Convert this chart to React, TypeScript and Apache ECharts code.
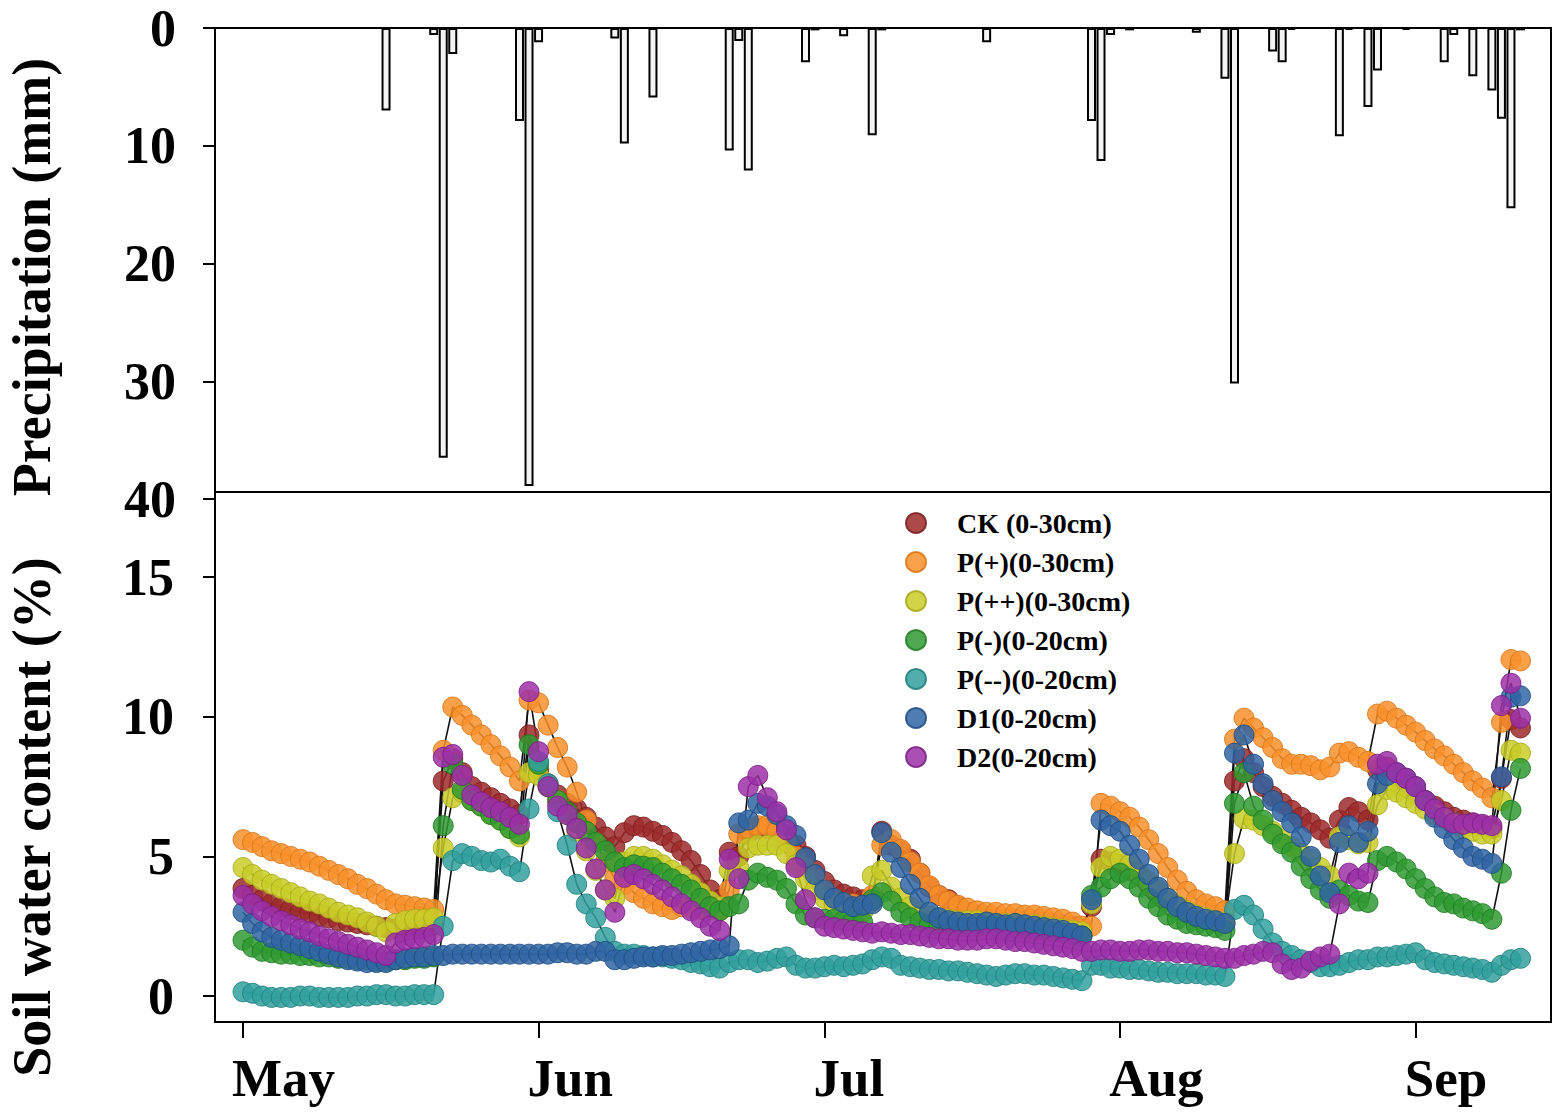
import React, { useEffect, useRef } from "react";
import * as echarts from "echarts";

const FONT = "'Liberation Serif', 'Times New Roman', serif";

// x axis: day index counted from May 1
const X_MIN = -2.94;
const X_MAX = 137.2;
const monthTicks = [0, 31, 61, 92, 123];
const monthLabels = ["May", "Jun", "Jul", "Aug", "Sep"];
const swcTicks = [0, 5, 10, 15];

// Precipitation (mm): day index and amount
const precipDays = [15, 20, 21, 22, 29, 30, 31, 39, 40, 43, 51, 52, 53, 59, 60, 63, 66, 67, 78, 89, 90, 91, 93, 100, 103, 104, 108, 109, 110, 115, 116, 118, 119, 122, 126, 127, 129, 131, 132, 133, 134];
const precipMm = [7.0, 0.6, 36.5, 2.2, 7.9, 38.9, 1.2, 0.9, 9.8, 5.9, 10.4, 1.1, 12.1, 2.9, 0.2, 0.7, 9.1, 0.2, 1.2, 7.9, 11.3, 0.6, 0.2, 0.4, 4.3, 30.2, 2.0, 2.9, 0.15, 9.2, 0.15, 6.7, 3.6, 0.15, 2.9, 0.6, 4.1, 5.3, 7.7, 15.3, 0.2];

// Soil water content (%), one value per day from May 1 (day 0) to day 134
const ck = [
  3.85, 3.6, 3.45, 3.3, 3.2, 3.1, 3.0, 2.95, 2.85, 2.8, 2.7, 2.65, 2.6, 2.55, 2.5, 2.45, 2.4, 2.4, 2.45, 2.5, 2.55,
  7.7, 8.5, 8.0, 7.5, 7.3, 7.1, 6.9, 6.7, 6.5,
  9.35, 8.1, 7.6, 7.2, 6.9, 6.7, 6.4, 6.05, 5.7, 5.35,
  5.85, 6.1, 6.05, 5.9, 5.75, 5.5, 5.2, 4.85, 4.35, 3.8, 3.45,
  5.15, 5.0, 5.8, 6.0, 6.0, 5.9, 5.7, 5.4, 5.0, 4.5, 4.1, 3.8, 3.65, 3.55, 3.45, 3.4, 5.9,
  5.4, 5.2, 4.9, 4.4, 3.9, 3.6, 3.45, 3.2, 3.0, 2.9, 2.85, 2.8, 2.75, 2.75, 2.7, 2.7, 2.65, 2.6, 2.55, 2.5, 2.4,
  3.2, 4.9, 4.8, 4.7, 4.5, 4.3, 4.0, 3.7, 3.4, 3.2, 3.0, 2.85, 2.75, 2.65, 2.6,
  7.7, 8.5, 8.0, 7.5, 7.15, 6.9, 6.65, 6.4, 6.2, 5.95, 5.65, 6.3, 6.75, 6.6, 6.3, 8.1, 8.2, 7.9, 7.6, 7.3, 7.0, 6.8, 6.6, 6.4, 6.3, 6.2, 6.1, 6.0, 7.8, 9.9, 9.6,
];
const pPlus = [
  5.6, 5.5, 5.35, 5.2, 5.1, 5.0, 4.9, 4.8, 4.65, 4.5, 4.35, 4.2, 4.0, 3.85, 3.65, 3.45, 3.3, 3.25, 3.2, 3.15, 3.1,
  8.8, 10.35, 10.05, 9.7, 9.35, 9.0, 8.6, 8.2, 7.7,
  10.6, 10.5, 9.7, 8.9, 8.2, 7.3, 6.3, 5.5, 4.8, 4.2,
  4.0, 3.7, 3.5, 3.3, 3.2, 3.1, 3.2, 3.15, 3.1, 3.1, 3.05,
  3.8, 5.8, 6.0, 6.1, 6.1, 5.9, 5.5, 5.0, 4.6, 4.2, 3.8, 3.5, 3.35, 3.3, 3.2, 3.6, 5.4,
  5.6, 5.25, 4.8, 4.4, 3.95, 3.6, 3.4, 3.25, 3.15, 3.05, 3.0, 3.0, 2.95, 2.95, 2.9, 2.9, 2.85, 2.8, 2.75, 2.65, 2.5,
  2.5, 6.9, 6.8, 6.6, 6.4, 6.05, 5.6, 5.1, 4.6, 4.15, 3.75, 3.45, 3.3, 3.2, 3.05,
  9.2, 9.95, 9.6, 9.25, 8.9, 8.5, 8.3, 8.3, 8.25, 8.1, 8.2, 8.7, 8.75, 8.55, 8.4, 10.1, 10.2, 9.95, 9.7, 9.45, 9.15, 8.85, 8.6, 8.3, 8.0, 7.7, 7.45, 7.1, 9.8, 12.05, 12.0,
];
const pPlusPlus = [
  4.6, 4.35, 4.15, 4.0, 3.85, 3.7, 3.55, 3.4, 3.3, 3.15, 3.0, 2.9, 2.8, 2.65, 2.5, 2.3, 2.6, 2.7, 2.75, 2.75, 2.8,
  5.3, 7.1, 7.3, 7.0, 6.8, 6.5, 6.3, 6.0, 5.7,
  8.0, 7.9, 7.5, 7.0, 6.5, 5.9, 5.2, 4.5, 3.8, 3.5,
  4.8, 5.0, 5.0, 4.9, 4.7, 4.5, 4.3, 4.0, 3.7, 3.4, 3.2,
  4.5, 4.6, 5.3, 5.4, 5.4, 5.4, 5.1, 4.7, 4.2, 3.8, 3.5, 3.3, 3.2, 3.1, 3.0, 4.3, 4.5,
  3.9, 3.5, 3.2, 3.0, 2.85, 2.8, 2.75, 2.7, 2.7, 2.7, 2.65, 2.6, 2.6, 2.6, 2.55, 2.55, 2.5, 2.45, 2.4, 2.35, 2.3,
  3.3, 4.6, 5.0, 4.9, 4.7, 4.4, 4.1, 3.8, 3.5, 3.25, 3.05, 2.9, 2.8, 2.7, 2.65,
  5.1, 6.35, 6.3, 6.1, 5.9, 5.6, 5.35, 5.1, 4.9, 4.6, 4.3, 5.7, 5.6, 5.45, 5.5, 6.85, 7.4, 7.3, 7.1, 6.9, 6.7, 6.5, 6.35, 6.2, 6.0, 5.9, 5.8, 5.8, 7.0, 8.8, 8.7,
];
const pMinus = [
  2.0, 1.75, 1.6, 1.55, 1.5, 1.5, 1.45, 1.45, 1.4, 1.4, 1.35, 1.35, 1.3, 1.3, 1.25, 1.25, 1.3, 1.3, 1.35, 1.35, 1.4,
  6.1, 8.3, 7.4, 7.0, 6.8, 6.5, 6.3, 6.0, 5.8,
  9.0, 8.3, 7.5, 7.0, 6.6, 6.2, 5.9, 5.5, 5.2, 4.8,
  4.6, 4.7, 4.65, 4.6, 4.4, 4.2, 4.0, 3.8, 3.5, 3.2, 3.05,
  3.2, 3.3, 4.15, 4.4, 4.25, 4.15, 3.85, 3.3, 2.9, 2.8, 2.75, 2.75, 2.7, 2.7, 2.65, 3.45, 3.7,
  3.4, 3.0, 2.8, 2.65, 2.55, 2.5, 2.5, 2.45, 2.45, 2.45, 2.5, 2.45, 2.4, 2.4, 2.4, 2.35, 2.35, 2.3, 2.25, 2.2, 2.15,
  3.6, 3.9, 4.2, 4.4, 4.2, 3.9, 3.5, 3.2, 2.9, 2.75, 2.6, 2.55, 2.5, 2.45, 2.35,
  6.9, 8.0, 6.8, 6.3, 5.8, 5.45, 5.15, 4.65, 4.2, 3.8, 3.5, 3.8, 3.6, 3.4, 3.35, 4.85, 5.0, 4.8, 4.55, 4.2, 3.85, 3.55, 3.35, 3.3, 3.15, 3.05, 2.95, 2.75, 4.4, 6.65, 8.15,
];
const pMinusMinus = [
  0.15, 0.1, 0.0, -0.05, -0.05, -0.05, 0.0, 0.0, -0.05, -0.05, -0.05, -0.05, 0.0, 0.0, 0.05, 0.05, 0.0, 0.0, 0.05, 0.05, 0.05,
  2.5, 4.85, 5.1, 5.0, 4.85, 4.8, 4.9, 4.65, 4.45,
  6.7, 8.4, 7.6, 6.6, 5.4, 4.0, 3.3, 2.8, 2.1, 1.6,
  1.5, 1.5, 1.45, 1.4, 1.4, 1.35, 1.3, 1.2, 1.15, 1.05, 1.0,
  1.2, 1.3, 1.3, 1.2, 1.25, 1.35, 1.4, 1.1, 1.0, 1.0, 1.05, 1.1, 1.05, 1.1, 1.15, 1.3, 1.4,
  1.35, 1.1, 1.05, 1.0, 0.95, 0.95, 0.9, 0.9, 0.85, 0.8, 0.75, 0.7, 0.75, 0.8, 0.8, 0.75, 0.75, 0.7, 0.65, 0.6, 0.55,
  1.1, 1.1, 1.0, 1.0, 0.95, 0.95, 0.9, 0.85, 0.85, 0.8, 0.8, 0.8, 0.75, 0.75, 0.7,
  3.1, 3.25, 2.9, 2.4, 1.9, 1.6, 1.45, 1.3, 1.2, 1.05, 1.05, 1.1, 1.2, 1.3, 1.3, 1.4, 1.4, 1.45, 1.5, 1.55, 1.3, 1.2, 1.15, 1.1, 1.05, 1.0, 0.95, 0.85, 1.1, 1.3, 1.35,
];
const d1 = [
  3.0, 2.6, 2.3, 2.1, 2.0, 1.9, 1.8, 1.7, 1.6, 1.5, 1.4, 1.3, 1.25, 1.2, 1.2, 1.2, 1.3, 1.35, 1.4, 1.4, 1.45,
  1.45, 1.5, 1.5, 1.5, 1.5, 1.5, 1.5, 1.5, 1.5,
  1.5, 1.5, 1.5, 1.55, 1.55, 1.5, 1.5, 1.6, 1.6, 1.3,
  1.3, 1.35, 1.4, 1.4, 1.45, 1.45, 1.5, 1.55, 1.6, 1.65, 1.7,
  1.8, 6.2, 6.3, 6.9, 6.8, 6.5, 6.1, 5.75, 4.95, 4.35, 3.8, 3.5, 3.35, 3.2, 3.25, 3.3, 5.85,
  5.15, 4.6, 4.0, 3.5, 3.0, 2.8, 2.7, 2.65, 2.6, 2.6, 2.65, 2.6, 2.55, 2.6, 2.55, 2.5, 2.45, 2.4, 2.35, 2.25, 2.15,
  3.45, 6.3, 6.1, 5.9, 5.4, 4.9, 4.35, 3.9, 3.5, 3.2, 3.0, 2.85, 2.75, 2.7, 2.6,
  8.7, 9.35, 8.3, 7.6, 7.0, 6.6, 6.2, 5.7, 5.0, 4.3, 3.7, 5.5, 6.1, 5.5, 5.9, 7.6, 7.9, 8.0, 7.8, 7.5, 7.0, 6.4, 6.0, 5.6, 5.3, 5.0, 4.9, 4.75, 7.85, 10.7, 10.75,
];
const d2 = [
  3.6, 3.3, 3.05, 2.85, 2.7, 2.55, 2.4, 2.3, 2.15, 2.05, 1.95, 1.85, 1.75, 1.65, 1.55, 1.45, 1.9, 2.0, 2.05, 2.1, 2.2,
  8.55, 8.65, 7.9, 7.2, 6.95, 6.75, 6.6, 6.4, 6.15,
  10.9, 8.75, 7.5, 6.8, 6.5, 6.0, 5.3, 4.55, 3.8, 3.0,
  4.25, 4.35, 4.2, 4.0, 3.8, 3.55, 3.3, 3.05, 2.8, 2.5, 2.35,
  4.9, 4.2, 7.5, 7.9, 7.1, 6.6, 5.95, 4.6, 3.45, 2.8, 2.5, 2.45, 2.4, 2.35, 2.3, 2.25, 2.3,
  2.25, 2.2, 2.2, 2.15, 2.1, 2.05, 2.05, 2.0, 2.0, 2.0, 2.05, 2.05, 2.0, 1.95, 1.95, 1.9, 1.85, 1.8, 1.75, 1.7, 1.6,
  1.6, 1.65, 1.65, 1.6, 1.6, 1.65, 1.65, 1.6, 1.6, 1.55, 1.55, 1.5, 1.45, 1.4, 1.35,
  1.35, 1.45, 1.5, 1.6, 1.55, 1.15, 0.95, 1.0, 1.25, 1.4, 1.5, 3.3, 4.4, 4.2, 4.4, 8.3, 8.4, 8.0, 7.8, 7.5, 7.0, 6.7, 6.4, 6.2, 6.15, 6.2, 6.15, 6.1, 10.4, 11.2, 9.95,
];

const seriesNames = ["CK (0-30cm)", "P(+)(0-30cm)", "P(++)(0-30cm)", "P(-)(0-20cm)", "P(--)(0-20cm)", "D1(0-20cm)", "D2(0-20cm)"];
const seriesValues = [ck, pPlus, pPlusPlus, pMinus, pMinusMinus, d1, d2];
const seriesColors = ["#9e2a2b", "#f8902a", "#c9cc27", "#2f9a31", "#31a09d", "#3065a3", "#9c30a8"];
const seriesEdges = ["#7a1c1d", "#d8741a", "#a6a81a", "#1f7a22", "#1f7f7d", "#1f4b80", "#7a1f86"];

const labelShift = 1.15;
const monthLabelPos = monthTicks.map((t) => t - labelShift);

export default function App() {
  const ref = useRef<HTMLDivElement>(null);

  useEffect(() => {
    if (!ref.current) return;
    const chart = echarts.init(ref.current, null, { renderer: "svg" });
    const axisLineStyle = { color: "#000", width: 2 };
    const tickLabel = { fontFamily: FONT, fontWeight: "bold" as const, fontSize: 52, color: "#000" };

    const lineSeries = seriesValues.map((vals, k) => ({
      name: seriesNames[k] + "-line",
      type: "line",
      xAxisIndex: 1,
      yAxisIndex: 2,
      data: vals.map((v, i) => [i, v]),
      showSymbol: false,
      symbol: "none",
      silent: true,
      z: 1,
      lineStyle: { color: "#111", width: 1.6 },
    }));
    const scatterSeries = seriesValues.map((vals, k) => ({
      name: seriesNames[k],
      type: "scatter",
      xAxisIndex: 1,
      yAxisIndex: 2,
      data: vals.map((v, i) => [i, v]),
      symbol: "circle",
      symbolSize: 20,
      z: 2,
      itemStyle: { color: seriesColors[k], opacity: 0.85, borderColor: seriesEdges[k], borderWidth: 1 },
    }));

    chart.setOption({
      animation: false,
      backgroundColor: "#ffffff",
      textStyle: { fontFamily: FONT },
      legend: {
        data: seriesNames,
        orient: "vertical",
        left: 900,
        top: 504,
        itemWidth: 20,
        itemHeight: 20,
        itemGap: 11,
        icon: "circle",
        textStyle: { fontFamily: FONT, fontWeight: "bold", fontSize: 28, color: "#000", padding: [0, 0, 0, 26] },
      },
      grid: [
        { left: 215, right: 8, top: 28, height: 471 },
        { left: 215, right: 8, top: 492, height: 530, show: true, borderColor: "#000", borderWidth: 2, backgroundColor: "transparent" },
      ],
      xAxis: [
        {
          gridIndex: 0, type: "value", min: X_MIN, max: X_MAX, position: "top",
          axisLine: { show: true, onZero: false, lineStyle: axisLineStyle },
          axisTick: { show: false }, axisLabel: { show: false }, splitLine: { show: false },
        },
        {
          gridIndex: 1, type: "value", min: X_MIN, max: X_MAX, position: "bottom",
          axisLine: { show: true, onZero: false, lineStyle: axisLineStyle },
          axisTick: { show: true, inside: false, length: 16, customValues: monthTicks, lineStyle: axisLineStyle },
          axisLabel: {
            ...tickLabel, fontSize: 53, margin: 29, align: "left",
            customValues: monthLabelPos,
            formatter: (val: number) => {
              const i = monthLabelPos.findIndex((p) => Math.abs(p - val) < 0.01);
              return i >= 0 ? monthLabels[i] : "";
            },
          },
          splitLine: { show: false },
        },
      ],
      yAxis: [
        {
          gridIndex: 0, type: "value", inverse: true, min: 0, max: 40, interval: 10,
          axisLine: { show: true, onZero: false, lineStyle: axisLineStyle },
          axisTick: { show: true, length: 12, lineStyle: axisLineStyle },
          axisLabel: { ...tickLabel, margin: 39 },
          splitLine: { show: false },
        },
        {
          gridIndex: 0, type: "value", position: "right", inverse: true, min: 0, max: 40, interval: 10,
          axisLine: { show: true, onZero: false, lineStyle: axisLineStyle },
          axisTick: { show: false }, axisLabel: { show: false }, splitLine: { show: false },
        },
        {
          gridIndex: 1, type: "value", min: -0.93, max: 18.05,
          axisLine: { show: true, onZero: false, lineStyle: axisLineStyle },
          axisTick: { show: true, length: 12, customValues: swcTicks, lineStyle: axisLineStyle },
          axisLabel: { ...tickLabel, margin: 41, customValues: swcTicks },
          splitLine: { show: false },
        },
      ],
      graphic: [
        {
          type: "text", x: 32, y: 817, rotation: Math.PI / 2,
          style: { text: "Soil water content (%)", fontFamily: FONT, fontWeight: "bold", fontSize: 54, fill: "#000", align: "center", verticalAlign: "middle", textAlign: "center", textVerticalAlign: "middle" },
        },
        {
          type: "text", x: 32, y: 277, rotation: Math.PI / 2,
          style: { text: "Precipitation (mm)", fontFamily: FONT, fontWeight: "bold", fontSize: 54, fill: "#000", align: "center", verticalAlign: "middle", textAlign: "center", textVerticalAlign: "middle" },
        },
      ],
      series: [
        {
          name: "Precipitation",
          type: "bar",
          xAxisIndex: 0,
          yAxisIndex: 0,
          barWidth: 9,
          data: precipDays.map((d, i) => [d, precipMm[i]]),
          itemStyle: { color: "#f4f4f4", borderColor: "#000", borderWidth: 2 },
        },
        ...lineSeries,
        ...scatterSeries,
      ],
    });
    return () => chart.dispose();
  }, []);

  return <div ref={ref} style={{ position: "absolute", left: 0, top: 0, width: 1559, height: 1120, background: "#fff" }} />;
}
